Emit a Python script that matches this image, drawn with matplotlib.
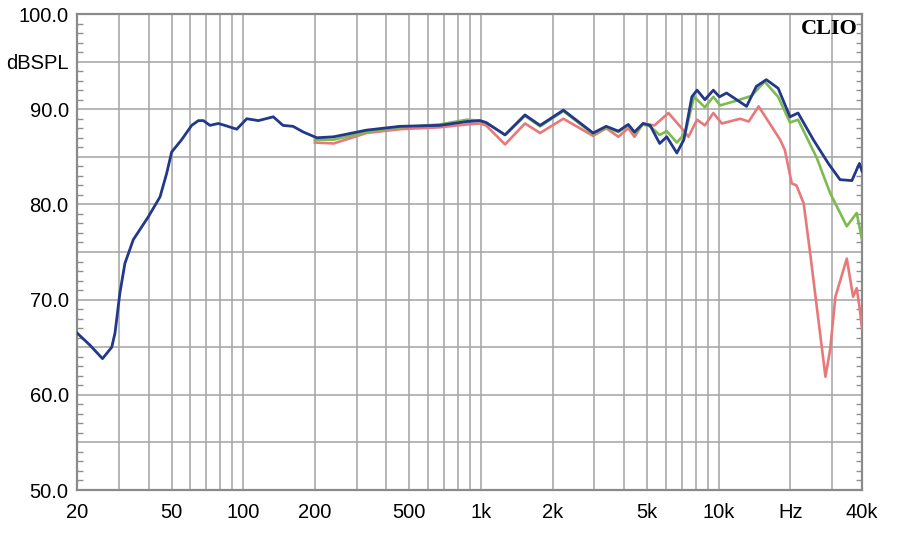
import matplotlib
matplotlib.use("Agg")
import matplotlib.pyplot as plt
from matplotlib.ticker import FixedLocator, NullFormatter

# frequency response readings (Hz, dB SPL)
blue_f = [20, 22.7, 25.6, 28, 28.9, 30.3, 31.8, 34.5, 39.9, 44.7, 47.7, 50, 55.1, 60.7,
          64.8, 68, 72.5, 78.5, 83.7, 93.9, 103.5, 115.8, 133.8, 147, 162, 179, 204,
          240, 330, 456, 670, 872, 990, 1050, 1262, 1530, 1772, 2220, 2960, 3360, 3780, 4160,
          4420, 4800, 5140, 5640, 6040, 6660, 7130, 7700, 8100, 8740, 9480, 10060, 10780,
          13080, 14380, 15840, 17760, 19920, 21540, 24960, 28880, 32340, 36260, 39000, 40000]
blue_db = [66.5, 65.2, 63.8, 65.0, 66.5, 70.7, 73.8, 76.3, 78.7, 80.8, 83.3, 85.5, 86.8, 88.3,
           88.8, 88.8, 88.3, 88.5, 88.3, 87.9, 89.0, 88.8, 89.2, 88.3, 88.2, 87.6, 87.0,
           87.1, 87.8, 88.2, 88.3, 88.7, 88.8, 88.6, 87.3, 89.4, 88.3, 89.9, 87.5, 88.2, 87.7, 88.4,
           87.6, 88.5, 88.3, 86.4, 87.1, 85.4, 86.8, 91.3, 92.0, 91.0, 92.0, 91.3, 91.7,
           90.3, 92.4, 93.1, 92.2, 89.2, 89.6, 86.8, 84.3, 82.6, 82.5, 84.3, 83.5]

green_f = [200, 240, 330, 456, 670, 872, 990, 1050, 1262, 1530, 1772, 2220, 2960, 3360, 3780, 4160,
           4420, 4800, 5140, 5640, 6040, 6660, 7230, 7870, 8740, 9480, 10130, 11880, 13720,
           15580, 17760, 19920, 21540, 25800, 29360, 34520, 38000, 40000]
green_db = [86.8, 86.8, 87.6, 88.1, 88.4, 88.9, 88.8, 88.6, 87.3, 89.3, 88.2, 89.8, 87.4, 88.1, 87.6, 88.3,
            87.5, 88.4, 88.2, 87.3, 87.7, 86.5, 87.5, 91.3, 90.2, 91.3, 90.4, 90.9, 91.4,
            92.9, 91.3, 88.6, 88.9, 84.9, 81.2, 77.7, 79.1, 76.3]

red_f = [200, 240, 330, 456, 670, 872, 990, 1050, 1262, 1530, 1772, 2220, 2960, 3360, 3780, 4160,
         4420, 4800, 5360, 6140, 6980, 7450, 8100, 8740, 9480, 10300, 12300, 13350, 14700,
         16460, 18100, 18960, 20260, 21200, 22740, 24120, 25800, 28080, 29360, 30920, 34520,
         36700, 38000, 39000, 40000]
red_db = [86.5, 86.4, 87.5, 87.9, 88.1, 88.4, 88.5, 88.3, 86.3, 88.5, 87.5, 89.0, 87.2, 88.0, 87.1, 88.0,
          87.1, 88.5, 88.3, 89.6, 88.0, 87.1, 88.9, 88.3, 89.6, 88.5, 89.0, 88.7, 90.3,
          88.4, 86.8, 85.7, 82.2, 82.0, 80.1, 75.2, 69.3, 61.9, 64.7, 70.3, 74.3,
          70.3, 71.2, 69.3, 67.0]

x_ticks = [20, 50, 100, 200, 500, 1000, 2000, 5000, 10000, 20000, 40000]
x_labels = ["20", "50", "100", "200", "500", "1k", "2k", "5k", "10k", "Hz", "40k"]
y_ticks = [50, 55, 60, 65, 70, 75, 80, 85, 90, 95, 100]
y_labels = ["50.0", "", "60.0", "", "70.0", "", "80.0", "", "90.0", "dBSPL", "100.0"]

plt.rcParams['font.family'] = ['Liberation Sans', 'DejaVu Sans']

fig = plt.figure(figsize=(9.02, 5.37), dpi=100)
ax = fig.add_axes([77 / 902, 1 - 490 / 537, 785 / 902, 476 / 537])

ax.plot(red_f, red_db, color="#e8787a", lw=1.9, zorder=3)
ax.plot(green_f, green_db, color="#7dbb4f", lw=1.9, zorder=4)
ax.plot(blue_f, blue_db, color="#22388a", lw=2.0, zorder=5)

ax.set_xscale("log")
ax.set_xlim(20, 40000)
ax.set_ylim(50, 100)

# vertical grid at every 1-2-3...9 step
grid_x = []
for dec in [10, 100, 1000, 10000]:
    for m in range(1, 10):
        v = m * dec
        if 20 < v < 40000:
            grid_x.append(v)
for v in grid_x:
    ax.axvline(v, color="#a3a3a3", lw=1.1, zorder=1)
for v in y_ticks[1:-1]:
    ax.axhline(v, color="#a3a3a3", lw=1.1, zorder=1)

ax.xaxis.set_major_locator(FixedLocator(x_ticks))
ax.xaxis.set_minor_locator(FixedLocator([]))
ax.set_xticklabels(x_labels)
ax.xaxis.set_minor_formatter(NullFormatter())
ax.tick_params(axis="x", which="both", length=0, pad=9, labelsize=14.5)

ax.set_yticks(y_ticks)
ax.set_yticklabels(y_labels)
ax.set_yticks(range(50, 101), minor=True)
ax.tick_params(axis="y", which="major", length=0, pad=6, labelsize=14.5)
ax.tick_params(axis="y", which="minor", direction="in", length=4, width=1,
               color="#909090", left=True, right=True)

for s in ax.spines.values():
    s.set_color("#8a8a8a")
    s.set_linewidth(1.6)

ax.text(0.995, 0.99, "CLIO", transform=ax.transAxes, ha="right", va="top",
        fontsize=16, fontweight="bold", family="Liberation Serif", zorder=6)

fig.savefig("out.png", dpi=100)
